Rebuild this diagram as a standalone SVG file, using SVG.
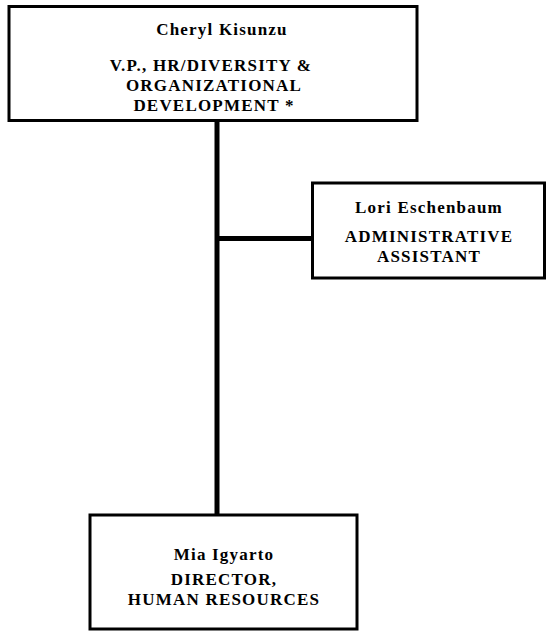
<svg xmlns="http://www.w3.org/2000/svg" width="550" height="633" viewBox="0 0 550 633">
  <style>
    .box { fill: #ffffff; stroke: #000000; stroke-width: 3; }
    .conn { stroke: #000000; stroke-width: 5; fill: none; }
    text { font-family: "Liberation Serif", "Times New Roman", serif; font-weight: bold; font-size: 17px; letter-spacing: 1.2px; fill: #000000; text-anchor: middle; }
  </style>
  <rect width="550" height="633" fill="#ffffff"/>

  <!-- reporting lines -->
  <g id="connectors">
    <line class="conn" x1="217" y1="120" x2="217" y2="515"/>
    <line class="conn" x1="217" y1="238.5" x2="312" y2="238.5"/>
  </g>

  <!-- vice president -->
  <g id="node-kisunzu">
    <rect class="box" x="9" y="6.5" width="408" height="114"/>
    <text x="222" y="35">Cheryl Kisunzu</text>
    <text x="211" y="71">V.P., HR/DIVERSITY &amp;</text>
    <text x="214" y="91">ORGANIZATIONAL</text>
    <text x="214" y="111">DEVELOPMENT *</text>
  </g>

  <!-- administrative assistant -->
  <g id="node-eschenbaum">
    <rect class="box" x="312.5" y="183" width="232" height="95"/>
    <text x="429" y="213">Lori Eschenbaum</text>
    <text x="429" y="242">ADMINISTRATIVE</text>
    <text x="429" y="262">ASSISTANT</text>
  </g>

  <!-- director -->
  <g id="node-igyarto">
    <rect class="box" x="90" y="515" width="267" height="114"/>
    <text x="224" y="560">Mia Igyarto</text>
    <text x="224" y="585">DIRECTOR,</text>
    <text x="224" y="605">HUMAN RESOURCES</text>
  </g>
</svg>
